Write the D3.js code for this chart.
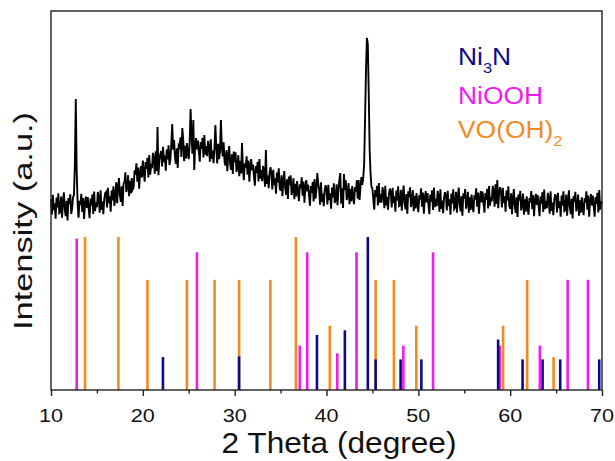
<!DOCTYPE html>
<html lang="en">
  <head>
    <meta charset="utf-8">
    <title>XRD pattern</title>
    <style>
      body { margin: 0; background: #fff; }
      text { font-family: "Liberation Sans", Arial, sans-serif; }
      .frame { fill: none; stroke: #222; stroke-width: 1.4px; }
      .xrd { fill: none; stroke: #000; stroke-width: 1.9px; stroke-linejoin: miter; }
      .axis path, .axis line { stroke: #222; stroke-width: 1.4px; }
    </style>
  </head>
  <body>
<script src="https://d3js.org/d3.v7.min.js"></script>
<script>

// ---- data ----

// measured pattern, 10 to 70 deg in 0.1 deg steps, counts (a.u.)
const xrdStart = 10, xrdStep = 0.1;
const xrdCounts = [
  155, 78, 176, 99, 134, 57, 162, 113, 183, 85,       // 10
  90, 167, 62, 139, 188, 104, 69, 146, 48, 160,       // 11
  129, 178, 80, 108, 164, 175, 330, 655, 290, 135,    // 12
  62, 146, 125, 181, 90, 160, 55, 132, 167, 111,      // 13
  164, 108, 59, 157, 122, 178, 80, 192, 94, 136,      // 14
  114, 191, 163, 86, 198, 100, 142, 79, 156, 184,     // 15
  190, 113, 211, 134, 169, 92, 197, 148, 218, 120,    // 16
  162, 239, 134, 211, 260, 176, 141, 218, 120, 232,   // 17
  239, 288, 190, 218, 274, 169, 246, 183, 260, 204,   // 18
  214, 298, 277, 333, 242, 312, 207, 284, 319, 263,   // 19
  347, 291, 242, 340, 305, 361, 263, 375, 277, 319,   // 20
  309, 386, 358, 281, 393, 295, 515, 274, 351, 379,   // 21
  395, 318, 416, 339, 374, 297, 402, 353, 423, 325,   // 22
  352, 429, 530, 401, 450, 366, 331, 408, 310, 422,   // 23
  414, 463, 365, 510, 449, 344, 421, 358, 435, 379,   // 24
  354, 438, 605, 473, 382, 550, 300, 424, 459, 403,   // 25
  447, 391, 342, 440, 405, 461, 363, 475, 377, 419,   // 26
  369, 446, 418, 341, 453, 355, 397, 334, 411, 525,   // 27
  410, 333, 431, 354, 389, 550, 417, 368, 438, 340,   // 28
  322, 399, 294, 371, 420, 336, 301, 378, 280, 392,   // 29
  339, 388, 290, 318, 374, 269, 346, 283, 435, 304,   // 30
  249, 333, 312, 368, 277, 347, 242, 319, 354, 298,   // 31
  327, 271, 222, 320, 285, 341, 243, 355, 257, 299,   // 32
  244, 321, 293, 216, 400, 230, 272, 209, 286, 314,   // 33
  280, 203, 301, 224, 259, 182, 287, 238, 308, 210,   // 34
  197, 274, 169, 246, 295, 211, 176, 253, 155, 267,   // 35
  224, 273, 175, 203, 259, 154, 231, 168, 245, 189,   // 36
  144, 228, 207, 263, 172, 242, 137, 214, 249, 193,   // 37
  227, 171, 122, 220, 185, 241, 143, 255, 157, 199,   // 38
  285, 231, 203, 126, 238, 140, 182, 119, 196, 224,   // 39
  205, 128, 226, 149, 184, 107, 212, 163, 233, 135,   // 40
  152, 229, 124, 201, 250, 285, 131, 208, 110, 280,   // 41
  199, 248, 150, 178, 234, 129, 206, 143, 220, 164,   // 42
  129, 213, 192, 248, 157, 250, 150, 215, 265, 225,   // 43
  260, 330, 560, 800, 960, 930, 680, 400, 280, 215,   // 44
  207, 151, 102, 200, 165, 221, 123, 235, 137, 179,   // 45
  137, 214, 186, 109, 221, 123, 165, 102, 179, 207,   // 46
  190, 113, 211, 134, 169, 92, 197, 148, 218, 120,    // 47
  124, 201, 96, 173, 222, 138, 103, 180, 82, 194,     // 48
  164, 213, 115, 143, 199, 94, 171, 108, 185, 129,    // 49
  89, 173, 152, 208, 117, 187, 82, 159, 194, 138,     // 50
  184, 128, 79, 177, 142, 198, 100, 212, 114, 156,    // 51
  119, 196, 168, 91, 203, 105, 147, 84, 161, 189,     // 52
  175, 98, 196, 119, 154, 77, 182, 133, 203, 105,     // 53
  114, 191, 86, 163, 212, 128, 93, 170, 72, 184,      // 54
  156, 205, 107, 135, 191, 86, 163, 100, 177, 121,    // 55
  89, 173, 152, 208, 117, 187, 82, 159, 194, 138,     // 56
  192, 136, 87, 185, 150, 206, 108, 220, 122, 164,    // 57
  144, 221, 193, 116, 228, 130, 250, 109, 186, 214,   // 58
  190, 113, 211, 134, 169, 92, 197, 148, 218, 120,    // 59
  107, 184, 79, 156, 205, 121, 86, 163, 65, 177,      // 60
  147, 196, 98, 126, 182, 77, 154, 91, 168, 112,      // 61
  76, 160, 139, 195, 104, 174, 69, 146, 181, 125,     // 62
  174, 118, 69, 167, 132, 188, 90, 202, 104, 146,     // 63
  109, 186, 158, 81, 193, 95, 137, 74, 151, 179,      // 64
  165, 88, 186, 109, 144, 67, 172, 123, 193, 95,      // 65
  100, 177, 72, 149, 198, 114, 79, 156, 58, 170,      // 66
  142, 191, 93, 121, 177, 72, 149, 86, 163, 107,      // 67
  74, 158, 137, 193, 102, 172, 67, 144, 179, 123,     // 68
  172, 116, 67, 165, 130, 186, 88, 200, 102, 144,     // 69
  130                                                 // 70
];

// reference patterns: peak positions (2 theta) and relative intensities
const ni3nPos   = [22.19, 30.48, 38.96, 42.0, 44.5, 45.35, 48.07, 50.33, 58.69, 61.35, 63.53, 65.45, 69.7];
const ni3nInt   = [21.5, 22, 36, 39, 100, 20, 20, 20, 33, 20, 20, 20, 20];
const nioohPos  = [12.8, 25.89, 37.09, 37.9, 41.17, 43.27, 48.37, 51.6, 58.87, 63.23, 66.26, 68.47];
const nioohInt  = [99, 90, 29, 90, 24, 90, 29, 90, 29, 29, 72, 72];
const voohPos   = [13.71, 17.34, 20.5, 24.8, 27.81, 30.48, 33.89, 36.67, 40.36, 45.35, 47.34, 49.78, 59.23, 61.85, 64.73];
const voohInt   = [100, 100, 72, 72, 72, 72, 72, 100, 42, 72, 72, 42, 42, 72, 21.5];

const xTicks = [10, 20, 30, 40, 50, 60, 70];
const xMinorTicks = [15, 25, 35, 45, 55, 65];

const colors = { ni3n: "#0b0b8a", niooh: "#ee1cee", vooh: "#f28a1e" };

// ---- layout ----
const W = 615, H = 461;
const plotLeft = 51, plotRight = 602, plotTop = 11, plotBottom = 390;

const svg = d3.select("body").append("svg")
    .attr("width", W)
    .attr("height", H);

const x = d3.scaleLinear().domain([10, 70]).range([plotLeft, plotRight]);
const yTop = d3.scaleLinear().domain([0, 1000]).range([230, 30]);
const yStick = d3.scaleLinear().domain([0, 100]).range([plotBottom, 237]);

// sticks: orange first, then magenta, navy on top
function drawSticks(pos, ints, color) {
    svg.append("g").selectAll("line")
        .data(pos.map((p, i) => [p, ints[i]]))
        .enter().append("line")
        .attr("x1", d => x(d[0]))
        .attr("x2", d => x(d[0]))
        .attr("y1", yStick(0))
        .attr("y2", d => yStick(d[1]))
        .attr("stroke", color)
        .attr("stroke-width", 2.6);
}
drawSticks(voohPos, voohInt, colors.vooh);
drawSticks(nioohPos, nioohInt, colors.niooh);
drawSticks(ni3nPos, ni3nInt, colors.ni3n);

// measured pattern
const line = d3.line()
    .x((d, i) => x(xrdStart + i * xrdStep))
    .y(d => yTop(d));

svg.append("path")
    .datum(xrdCounts)
    .attr("class", "xrd")
    .attr("d", line);

// frame
svg.append("rect")
    .attr("class", "frame")
    .attr("x", plotLeft).attr("y", plotTop)
    .attr("width", plotRight - plotLeft).attr("height", plotBottom - plotTop);

// x axis, ticks pointing out
svg.append("g")
    .attr("class", "axis")
    .attr("transform", `translate(0,${plotBottom})`)
    .call(d3.axisBottom(x).tickValues(xTicks).tickSize(6).tickFormat(""))
    .select(".domain").remove();
svg.append("g")
    .attr("class", "axis")
    .attr("transform", `translate(0,${plotBottom})`)
    .call(d3.axisBottom(x).tickValues(xMinorTicks).tickSize(3.5).tickFormat(""))
    .select(".domain").remove();

// tick labels (source font looks stretched sideways)
svg.append("g").selectAll("text")
    .data(xTicks)
    .enter().append("text")
    .attr("transform", d => `translate(${x(d)},422) scale(1.2,1)`)
    .attr("text-anchor", "middle")
    .attr("font-size", 18)
    .attr("fill", "#111")
    .text(d => d);

svg.append("text")
    .attr("transform", "translate(339,453) scale(1.09,1)")
    .attr("text-anchor", "middle")
    .attr("font-size", 29)
    .attr("fill", "#111")
    .text("2 Theta (degree)");

svg.append("text")
    .attr("transform", "translate(32,221) rotate(-90) scale(1.3,1)")
    .attr("text-anchor", "middle")
    .attr("font-size", 26.5)
    .attr("fill", "#111")
    .text("Intensity (a.u.)");

// legend
const legend = [
    { base: "Ni", sub: "3", tail: "N", color: colors.ni3n, y: 65 },
    { base: "NiOOH", sub: "", tail: "", color: colors.niooh, y: 104 },
    { base: "VO(OH)", sub: "2", tail: "", color: colors.vooh, y: 138 }
];
legend.forEach(l => {
    const t = svg.append("text")
        .attr("transform", `translate(458,${l.y}) scale(1.1,1)`)
        .attr("font-size", 24)
        .attr("fill", l.color);
    t.append("tspan").text(l.base);
    if (l.sub) t.append("tspan").attr("font-size", 15).attr("dy", 8).text(l.sub);
    if (l.tail) t.append("tspan").attr("dy", -8).text(l.tail);
});

</script>
</body>
</html>
